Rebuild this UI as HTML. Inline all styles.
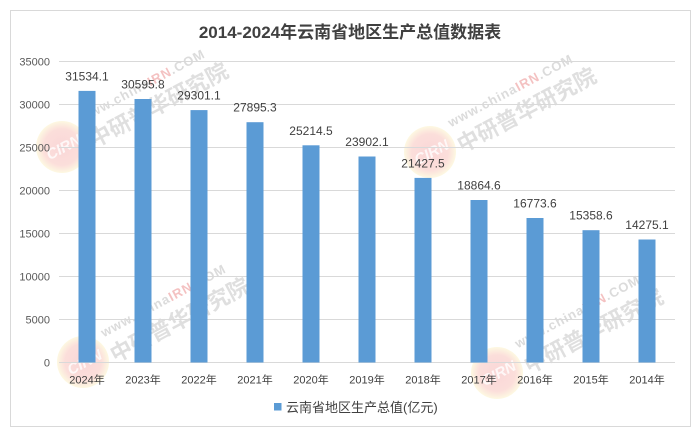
<!DOCTYPE html>
<html><head><meta charset="utf-8"><style>
html,body{margin:0;padding:0;background:#fff;}
svg{display:block;}
text{font-family:"Liberation Sans","Noto Sans CJK SC",sans-serif;}
</style></head><body>
<svg width="700" height="438" viewBox="0 0 700 438" xmlns="http://www.w3.org/2000/svg">
<defs>
<radialGradient id="lg" cx="50%" cy="50%" r="50%">
<stop offset="0%" stop-color="#e8484a"/>
<stop offset="70%" stop-color="#ee6a5a"/>
<stop offset="100%" stop-color="#f7e27a"/>
</radialGradient>
<g id="wm">
<circle cx="0" cy="0" r="26" fill="url(#lg)" opacity="0.22"/>
<g transform="rotate(-28)">
<text x="-17" y="6" font-size="15" font-weight="bold" font-style="italic" fill="#fff" opacity="0.8">CIRN</text>
<text x="30" y="-12" font-size="13" font-weight="bold" fill="#999" opacity="0.35" letter-spacing="1">www.china<tspan fill="#e05050">IRN</tspan>.COM</text>
<text x="28" y="16" font-size="22" font-weight="bold" fill="#999" opacity="0.3">中研普华研究院</text>
</g>
</g>
</defs>
<rect x="0" y="0" width="700" height="438" fill="#fff"/>
<rect x="10.5" y="10.5" width="680" height="416" fill="none" stroke="#d9d9d9" stroke-width="1"/>

<!-- watermarks -->
<use href="#wm" x="62" y="147"/>
<use href="#wm" x="83" y="362"/>
<use href="#wm" x="497" y="373"/>
<use href="#wm" x="430" y="152"/>

<text x="350" y="38" text-anchor="middle" font-size="17" font-weight="bold" fill="#404040">2014-2024年云南省地区生产总值数据表</text>

<!-- gridlines -->
<g stroke="#d9d9d9" stroke-width="1">
<line x1="59" x2="675" y1="61.5" y2="61.5"/>
<line x1="59" x2="675" y1="104.5" y2="104.5"/>
<line x1="59" x2="675" y1="147.5" y2="147.5"/>
<line x1="59" x2="675" y1="190.5" y2="190.5"/>
<line x1="59" x2="675" y1="233.5" y2="233.5"/>
<line x1="59" x2="675" y1="276.5" y2="276.5"/>
<line x1="59" x2="675" y1="319.5" y2="319.5"/>
<line x1="59" x2="675" y1="362.5" y2="362.5"/>
</g>

<!-- y labels -->
<g font-size="11" fill="#595959" text-anchor="end">
<text x="50" y="65.5">35000</text>
<text x="50" y="108.5">30000</text>
<text x="50" y="151.5">25000</text>
<text x="50" y="194.5">20000</text>
<text x="50" y="237.5">15000</text>
<text x="50" y="280.5">10000</text>
<text x="50" y="323.5">5000</text>
<text x="50" y="366.5">0</text>
</g>

<!-- bars -->
<g fill="#5b9bd5">
<rect x="78.5" y="90.9" width="17" height="271.6"/>
<rect x="134.5" y="99.0" width="17" height="263.5"/>
<rect x="190.5" y="110.1" width="17" height="252.4"/>
<rect x="246.5" y="122.2" width="17" height="240.3"/>
<rect x="302.5" y="145.3" width="17" height="217.2"/>
<rect x="358.5" y="156.5" width="17" height="206.0"/>
<rect x="414.5" y="177.9" width="17" height="184.6"/>
<rect x="470.5" y="200.0" width="17" height="162.5"/>
<rect x="526.5" y="218.0" width="17" height="144.5"/>
<rect x="582.5" y="230.2" width="17" height="132.3"/>
<rect x="638.5" y="239.5" width="17" height="123.0"/>
</g>

<!-- value labels -->
<g font-size="12" fill="#404040" text-anchor="middle">
<text x="87" y="80.4">31534.1</text>
<text x="143" y="88.5">30595.8</text>
<text x="199" y="99.6">29301.1</text>
<text x="255" y="111.7">27895.3</text>
<text x="311" y="134.8">25214.5</text>
<text x="367" y="146.0">23902.1</text>
<text x="423" y="167.4">21427.5</text>
<text x="479" y="189.5">18864.6</text>
<text x="535" y="207.5">16773.6</text>
<text x="591" y="219.7">15358.6</text>
<text x="647" y="229.0">14275.1</text>
</g>

<!-- x labels -->
<g font-size="11" fill="#404040" text-anchor="middle">
<text x="87" y="383.5">2024年</text>
<text x="143" y="383.5">2023年</text>
<text x="199" y="383.5">2022年</text>
<text x="255" y="383.5">2021年</text>
<text x="311" y="383.5">2020年</text>
<text x="367" y="383.5">2019年</text>
<text x="423" y="383.5">2018年</text>
<text x="479" y="383.5">2017年</text>
<text x="535" y="383.5">2016年</text>
<text x="591" y="383.5">2015年</text>
<text x="647" y="383.5">2014年</text>
</g>

<!-- legend -->
<rect x="274" y="403" width="7.5" height="7.5" fill="#5b9bd5"/>
<text x="286" y="412.2" font-size="13" fill="#404040">云南省地区生产总值(亿元)</text>
</svg>
</body></html>
